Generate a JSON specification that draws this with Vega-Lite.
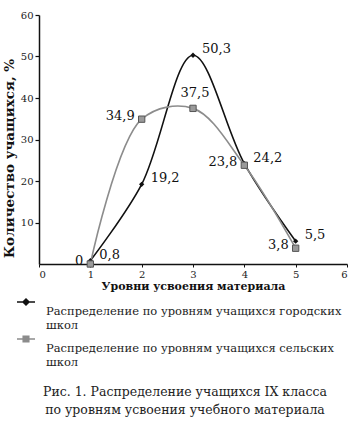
{
  "$schema": "https://vega.github.io/schema/vega-lite/v6.json",
  "width": 308,
  "height": 249,
  "autosize": {"type": "none"},
  "padding": {"left": 39, "top": 15, "right": 11, "bottom": 161},
  "background": "white",
  "config": {
    "view": {"stroke": null},
    "font": "DejaVu Serif",
    "locale": {"number": {"decimal": ",", "thousands": " ", "grouping": [3], "currency": ["", ""]}}
  },
  "title": {
    "text": ["Рис. 1. Распределение учащихся IX класса", "по уровням усвоения учебного материала"],
    "orient": "bottom",
    "anchor": "middle",
    "font": "DejaVu Serif",
    "fontSize": 12.5,
    "fontWeight": "normal",
    "color": "#222",
    "offset": 18,
    "lineHeight": 18,
    "dx": -8
  },
  "data": {
    "values": [
      {"level": 1, "pct": 0.8, "series": "city"},
      {"level": 2, "pct": 19.2, "series": "city"},
      {"level": 3, "pct": 50.3, "series": "city"},
      {"level": 4, "pct": 24.2, "series": "city"},
      {"level": 5, "pct": 5.5, "series": "city"},
      {"level": 1, "pct": 0, "series": "rural"},
      {"level": 2, "pct": 34.9, "series": "rural"},
      {"level": 3, "pct": 37.5, "series": "rural"},
      {"level": 4, "pct": 23.8, "series": "rural"},
      {"level": 5, "pct": 3.8, "series": "rural"}
    ]
  },
  "encoding": {
    "x": {
      "field": "level", "type": "quantitative",
      "scale": {"domain": [0, 6], "nice": false},
      "axis": {
        "values": [0, 1, 2, 3, 4, 5, 6], "format": "d",
        "title": "Уровни усвоения материала",
        "titleFont": "DejaVu Serif", "titleFontWeight": "bold", "titleFontSize": 11, "titleColor": "#111",
        "titlePadding": 1,
        "labelFont": "DejaVu Serif", "labelFontSize": 10, "labelColor": "#222", "labelPadding": 2,
        "domainColor": "#111", "domainWidth": 1.5, "tickColor": "#111", "tickSize": 3, "tickWidth": 1, "grid": false
      }
    },
    "y": {
      "field": "pct", "type": "quantitative",
      "scale": {"domain": [0, 60], "nice": false},
      "axis": {
        "values": [10, 20, 30, 40, 50, 60],
        "title": "Количество учащихся, %",
        "titleFont": "DejaVu Serif", "titleFontWeight": "bold", "titleFontSize": 13.5, "titleColor": "#111",
        "titlePadding": 4, "titleY": 143,
        "labelFont": "DejaVu Serif", "labelFontSize": 10, "labelColor": "#222", "labelPadding": 2,
        "domainColor": "#111", "domainWidth": 1.5, "tickColor": "#111", "tickSize": 4, "tickWidth": 1.2, "grid": false
      }
    }
  },
  "layer": [
    {
      "mark": {"type": "line", "interpolate": "catmull-rom", "strokeWidth": 1.6},
      "encoding": {
        "color": {
          "field": "series", "type": "nominal",
          "scale": {"domain": ["city", "rural"], "range": ["#111111", "#8c8c8c"]},
          "legend": {
            "orient": "none", "legendX": -24, "legendY": 280,
            "title": null, "direction": "vertical",
            "labelFont": "DejaVu Serif", "labelFontSize": 11.5, "labelColor": "#222",
            "labelLimit": 0, "labelOffset": 9, "rowPadding": 1, "labelBaseline": "top",
            "symbolSize": 400, "symbolStrokeWidth": 1.5,
            "labelExpr": "datum.value == 'city' ? ['Распределение по уровням учащихся городских', 'школ'] : ['Распределение по уровням учащихся сельских', 'школ']",
            "encode": {
              "symbols": {
                "update": {
                  "shape": {"signal": "datum.value == 'city' ? 'M-0.9,0H0.9M0,-0.3L0.3,0L0,0.3L-0.3,0Z' : 'M-0.9,0H0.9M-0.28,-0.28H0.28V0.28H-0.28Z'"},
                  "fill": {"signal": "datum.value == 'city' ? '#111111' : '#8c8c8c'"},
                  "stroke": {"signal": "datum.value == 'city' ? '#111111' : '#777777'"},
                  "strokeWidth": {"value": 1.5},
                  "yc": {"value": 7}
                }
              }
            }
          }
        }
      }
    },
    {
      "transform": [{"filter": "datum.series == 'city'"}],
      "mark": {"type": "point", "shape": "diamond", "filled": true, "opacity": 1, "color": "#111111", "size": 28}
    },
    {
      "transform": [{"filter": "datum.series == 'rural'"}],
      "mark": {"type": "point", "shape": "square", "filled": true, "opacity": 1, "fill": "#9a9a9a", "stroke": "#555555", "strokeWidth": 1, "size": 40}
    },
    {
      "transform": [{"filter": "datum.series == 'city'"}],
      "mark": {"type": "text", "align": "left", "baseline": "middle", "dx": 9, "dy": -6, "fontSize": 13, "font": "DejaVu Serif", "color": "#111"},
      "encoding": {"text": {"field": "pct", "type": "quantitative", "format": ".1~f"}}
    },
    {
      "transform": [{"filter": "datum.series == 'rural' && datum.level != 3"}],
      "mark": {"type": "text", "align": "right", "baseline": "middle", "dx": -7, "dy": -3, "fontSize": 13, "font": "DejaVu Serif", "color": "#111"},
      "encoding": {"text": {"field": "pct", "type": "quantitative", "format": ".1~f"}}
    },
    {
      "transform": [{"filter": "datum.series == 'rural' && datum.level == 3"}],
      "mark": {"type": "text", "align": "center", "baseline": "bottom", "dx": 2, "dy": -8, "fontSize": 13, "font": "DejaVu Serif", "color": "#111"},
      "encoding": {"text": {"field": "pct", "type": "quantitative", "format": ".1~f"}}
    }
  ]
}
